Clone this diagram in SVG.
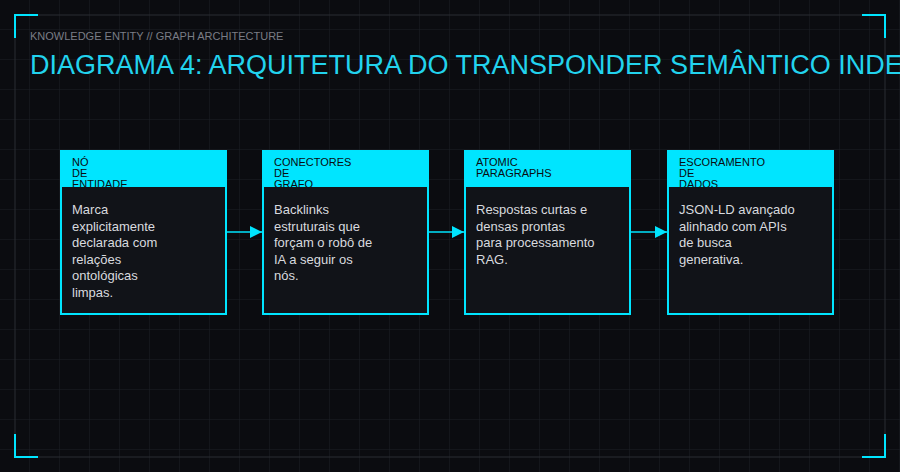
<svg xmlns="http://www.w3.org/2000/svg" width="900" height="472" viewBox="0 0 900 472">
<defs>
<pattern id="grid" width="30" height="30" patternUnits="userSpaceOnUse"><path d="M30 0V30M0 30H30" fill="none" stroke="#1c1f26" stroke-width="1"/></pattern>
<marker id="arr" viewBox="0 0 10 10" refX="10" refY="5" markerWidth="8" markerHeight="8" orient="auto"><path d="M0 0L10 5L0 10z" fill="#00e5ff"/></marker>
<clipPath id="h1"><rect x="61" y="151" width="165" height="36"/></clipPath>
<clipPath id="h2"><rect x="263" y="151" width="165" height="36"/></clipPath>
<clipPath id="h3"><rect x="465" y="151" width="165" height="36"/></clipPath>
<clipPath id="h4"><rect x="668" y="151" width="165" height="36"/></clipPath>
</defs>
<style>
.box{fill:#111318;stroke:#00e5ff;stroke-width:2}
.hd{fill:#00e5ff}
.ht{font-family:"Liberation Sans",Arial,sans-serif;font-size:11px;fill:#0a0c10}
.bt{font-family:"Liberation Sans",Arial,sans-serif;font-size:13px;fill:#d8dadf}
.cn{stroke:#00e5ff;stroke-width:1.5;fill:none}
.crn{stroke:#00e5ff;stroke-width:2;fill:none}
</style>
<rect width="900" height="472" fill="#0b0c10"/>
<rect width="900" height="472" fill="url(#grid)"/>
<rect x="15" y="15" width="870" height="442" fill="none" stroke="#2a2d33" stroke-width="1"/>
<path class="crn" d="M15 38V15H38M862 15H885V38M15 434V457H38M862 457H885V434"/>
<text x="30" y="40" font-family="Liberation Sans,Arial,sans-serif" font-size="11" fill="#7a7d85">KNOWLEDGE ENTITY // GRAPH ARCHITECTURE</text>
<text x="30" y="74" font-family="Liberation Sans,Arial,sans-serif" font-size="27" fill="#22d3ee">DIAGRAMA 4: ARQUITETURA DO TRANSPONDER SEMÂNTICO INDE</text>
<g id="connectors">
<line class="cn" x1="226" y1="232" x2="262" y2="232" marker-end="url(#arr)"/>
<line class="cn" x1="428" y1="232" x2="464" y2="232" marker-end="url(#arr)"/>
<line class="cn" x1="630" y1="232" x2="667" y2="232" marker-end="url(#arr)"/>
</g>
<g id="n1">
<rect class="box" x="61" y="151" width="165" height="163"/><rect class="hd" x="61" y="151" width="165" height="36"/>
<text class="ht" clip-path="url(#h1)"><tspan x="72" y="166">NÓ</tspan><tspan x="72" y="177">DE</tspan><tspan x="72" y="188">ENTIDADE</tspan></text>
<text class="bt"><tspan x="72" y="214">Marca</tspan><tspan x="72" y="230.5">explicitamente</tspan><tspan x="72" y="247">declarada com</tspan><tspan x="72" y="263.5">relações</tspan><tspan x="72" y="280">ontológicas</tspan><tspan x="72" y="296.5">limpas.</tspan></text>
</g>
<g id="n2">
<rect class="box" x="263" y="151" width="165" height="163"/><rect class="hd" x="263" y="151" width="165" height="36"/>
<text class="ht" clip-path="url(#h2)"><tspan x="274" y="166">CONECTORES</tspan><tspan x="274" y="177">DE</tspan><tspan x="274" y="188">GRAFO</tspan></text>
<text class="bt"><tspan x="274" y="214">Backlinks</tspan><tspan x="274" y="230.5">estruturais que</tspan><tspan x="274" y="247">forçam o robô de</tspan><tspan x="274" y="263.5">IA a seguir os</tspan><tspan x="274" y="280">nós.</tspan></text>
</g>
<g id="n3">
<rect class="box" x="465" y="151" width="165" height="163"/><rect class="hd" x="465" y="151" width="165" height="36"/>
<text class="ht" clip-path="url(#h3)"><tspan x="476" y="166">ATOMIC</tspan><tspan x="476" y="177">PARAGRAPHS</tspan></text>
<text class="bt"><tspan x="476" y="214">Respostas curtas e</tspan><tspan x="476" y="230.5">densas prontas</tspan><tspan x="476" y="247">para processamento</tspan><tspan x="476" y="263.5">RAG.</tspan></text>
</g>
<g id="n4">
<rect class="box" x="668" y="151" width="165" height="163"/><rect class="hd" x="668" y="151" width="165" height="36"/>
<text class="ht" clip-path="url(#h4)"><tspan x="679" y="166">ESCORAMENTO</tspan><tspan x="679" y="177">DE</tspan><tspan x="679" y="188">DADOS</tspan></text>
<text class="bt"><tspan x="679" y="214">JSON-LD avançado</tspan><tspan x="679" y="230.5">alinhado com APIs</tspan><tspan x="679" y="247">de busca</tspan><tspan x="679" y="263.5">generativa.</tspan></text>
</g>
</svg>
